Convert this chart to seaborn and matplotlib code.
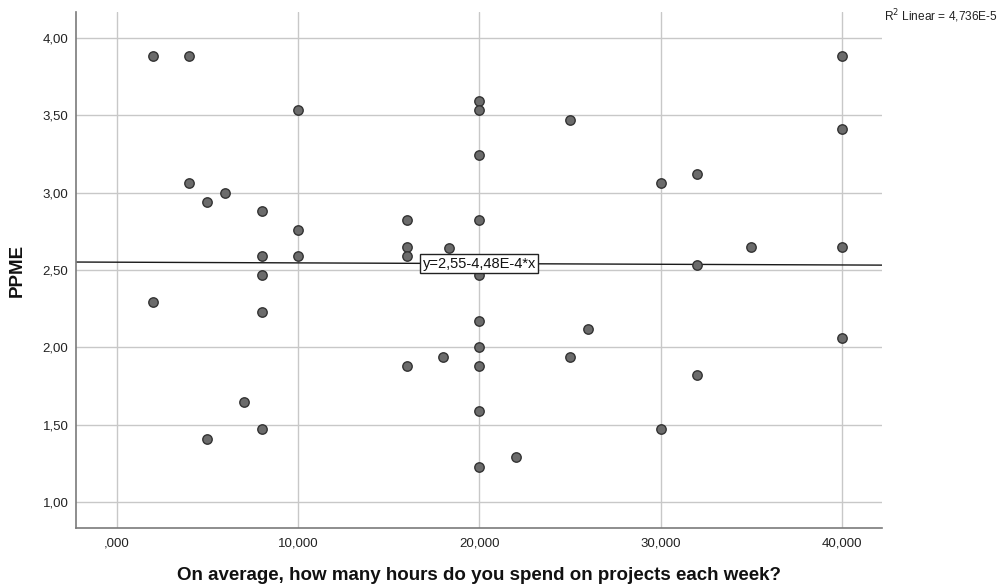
import matplotlib
matplotlib.use("Agg")
import matplotlib.pyplot as plt
import seaborn as sns
import pandas as pd

# Weekly project hours and PPME score per respondent
hours = [2, 2, 4, 4, 5, 5, 6, 7,
         8, 8, 8, 8, 8,
         10, 10, 10,
         16, 16, 16, 16,
         18, 18.3,
         20, 20, 20, 20, 20, 20, 20, 20, 20, 20,
         22, 25, 25, 26, 30, 30,
         32, 32, 32, 35,
         40, 40, 40, 40]
ppme = [3.88, 2.29, 3.88, 3.06, 2.94, 1.41, 3.00, 1.65,
        2.88, 2.59, 2.47, 2.23, 1.47,
        3.53, 2.76, 2.59,
        2.82, 2.65, 2.59, 1.88,
        1.94, 2.64,
        3.59, 3.53, 3.24, 2.82, 2.47, 2.17, 2.00, 1.88, 1.59, 1.23,
        1.29, 3.47, 1.94, 2.12, 3.06, 1.47,
        3.12, 2.53, 1.82, 2.65,
        3.88, 3.41, 2.65, 2.06]

# Linear fit reported with the chart
fit_intercept = 2.55
fit_slope = -4.48e-4
fit_label = "y=2,55-4,48E-4*x"
r2_label = "R$^2$ Linear = 4,736E-5"

x_ticks = [0, 10, 20, 30, 40]
x_tick_labels = [",000", "10,000", "20,000", "30,000", "40,000"]
y_ticks = [1.0, 1.5, 2.0, 2.5, 3.0, 3.5, 4.0]
y_tick_labels = ["1,00", "1,50", "2,00", "2,50", "3,00", "3,50", "4,00"]

df = pd.DataFrame({"hours": hours, "PPME": ppme})

sns.set_theme(style="white")
plt.rcParams["font.family"] = ["Liberation Sans", "DejaVu Sans"]

fig = plt.figure(figsize=(10.04, 5.88), dpi=100)
ax = fig.add_axes([0.0757, 0.102, 0.8028, 0.8776])

ax.set_xlim(-2.24, 42.2)
ax.set_ylim(0.833, 4.166)

ax.set_xticks(x_ticks)
ax.set_xticklabels(x_tick_labels)
ax.set_yticks(y_ticks)
ax.set_yticklabels(y_tick_labels)
ax.grid(True, color="#c8c8c8", linewidth=1.0)
ax.set_axisbelow(True)

for side in ("top", "right"):
    ax.spines[side].set_visible(False)
for side in ("left", "bottom"):
    ax.spines[side].set_color("#7a7a7a")
    ax.spines[side].set_linewidth(1.2)

ax.tick_params(axis="both", labelsize=9.5, colors="#7a7a7a", labelcolor="#222222",
               length=3, width=1, direction="inout")
ax.tick_params(axis="x", pad=5)
ax.tick_params(axis="y", pad=4)

# Fit line across the full axis width
ax.axline((0, fit_intercept), slope=fit_slope, color="#1a1a1a", linewidth=1.0, zorder=2)

sns.scatterplot(data=df, x="hours", y="PPME", ax=ax, s=46,
                color="#6b6b6b", edgecolor="#333333", linewidth=1.0, zorder=3)

# Equation box on the fit line
lab_x = 20
ax.text(lab_x, fit_intercept + fit_slope * lab_x, fit_label, ha="center", va="center",
        fontsize=10.5, color="#111111", zorder=5,
        bbox=dict(boxstyle="square,pad=0.15", facecolor="white", edgecolor="#222222", linewidth=1.0))

ax.set_xlabel("On average, how many hours do you spend on projects each week?",
              fontsize=13.5, fontweight="bold", color="#111111", labelpad=13)
ax.set_ylabel("PPME", fontsize=13.5, fontweight="bold", color="#111111", labelpad=12)

fig.text(0.8805, 0.972, r2_label, fontsize=8.6, color="#222222", ha="left", va="center")

fig.savefig("out.png", dpi=100)
